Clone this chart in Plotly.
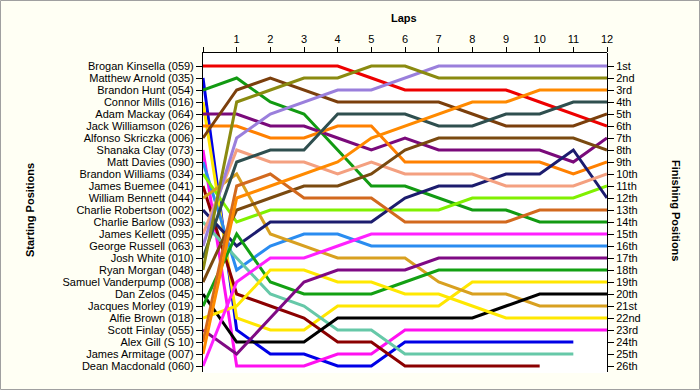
import plotly.graph_objects as go

# ---------------- data ----------------
laps = list(range(0, 13))
lap_tick_text = [""] + [str(i) for i in range(1, 13)]

start_names = [
    "Brogan Kinsella (059)", "Matthew Arnold (035)", "Brandon Hunt (054)", "Connor Mills (016)",
    "Adam Mackay (064)", "Jack Williamson (026)", "Alfonso Skriczka (006)", "Shanaka Clay (073)",
    "Matt Davies (090)", "Brandon Williams (034)", "James Buemee (041)", "William Bennett (044)",
    "Charlie Robertson (002)", "Charlie Barlow (093)", "James Kellett (095)", "George Russell (063)",
    "Josh White (010)", "Ryan Morgan (048)", "Samuel Vanderpump (008)", "Dan Zelos (045)",
    "Jacques Morley (019)", "Alfie Brown (018)", "Scott Finlay (055)", "Alex Gill (S 10)",
    "James Armitage (007)", "Dean Macdonald (060)",
]
finish_labels = [
    "1st", "2nd", "3rd", "4th", "5th", "6th", "7th", "8th", "9th", "10th", "11th", "12th", "13th",
    "14th", "15th", "16th", "17th", "18th", "19th", "20th", "21st", "22nd", "23rd", "24th", "25th", "26th",
]
rows = list(range(1, 27))

# position at lap 0..12 for each driver (in starting order)
brogan_kinsella   = [1, 1, 1, 1, 1, 2, 3, 3, 3, 3, 4, 5, 6]
matthew_arnold    = [2, 23, 25, 25, 26, 26, 24, 24, 24, 24, 24, 24]
brandon_hunt      = [3, 2, 4, 5, 8, 11, 11, 12, 13, 13, 14, 14, 14]
connor_mills      = [4, 22, 23, 23, 21, 21, 21, 21, 19, 19, 19, 19, 19]
adam_mackay       = [5, 5, 6, 6, 7, 8, 7, 8, 8, 8, 8, 9, 7]
jack_williamson   = [6, 6, 7, 7, 6, 6, 9, 9, 9, 9, 9, 10, 9]
alfonso_skriczka  = [7, 3, 2, 3, 4, 4, 4, 4, 5, 6, 6, 6, 5]
shanaka_clay      = [8, 26, 26, 26, 25, 25, 23, 23, 23, 23, 23, 23, 23]
matt_davies       = [9, 18, 16, 15, 15, 16, 16, 16, 16, 16, 16, 16, 16]
brandon_williams  = [10, 14, 13, 13, 13, 13, 13, 13, 12, 12, 12, 12, 11]
james_buemee      = [11, 20, 21, 22, 24, 24, 26, 26, 26, 26, 26]
william_bennett   = [12, 10, 15, 16, 17, 17, 17, 19, 20, 20, 21, 21, 21]
charlie_robertson = [13, 16, 14, 14, 14, 14, 12, 11, 11, 10, 10, 8, 12]
charlie_barlow    = [14, 17, 20, 21, 23, 23, 25, 25, 25, 25, 25, 25]
james_kellett     = [15, 8, 9, 9, 10, 9, 10, 10, 10, 11, 11, 11, 10]
george_russell    = [16, 7, 5, 4, 3, 3, 2, 1, 1, 1, 1, 1, 1]
josh_white        = [17, 9, 8, 8, 5, 5, 5, 6, 6, 5, 5, 4, 4]
ryan_morgan       = [18, 4, 3, 2, 2, 1, 1, 2, 2, 2, 2, 2, 2]
samuel_vanderpump = [19, 13, 12, 11, 11, 10, 8, 7, 7, 7, 7, 7, 8]
dan_zelos         = [20, 24, 24, 24, 22, 22, 22, 22, 22, 21, 20, 20, 20]
jacques_morley    = [21, 15, 19, 20, 20, 20, 19, 18, 18, 18, 18, 18, 18]
alfie_brown       = [22, 21, 18, 18, 19, 19, 20, 20, 21, 22, 22, 22, 22]
scott_finlay      = [23, 25, 22, 19, 18, 18, 18, 17, 17, 17, 17, 17, 17]
alex_gill         = [24, 11, 10, 12, 12, 12, 14, 14, 14, 14, 13, 13, 13]
james_armitage    = [25, 12, 11, 10, 9, 7, 6, 5, 4, 4, 3, 3, 3]
dean_macdonald    = [26, 19, 17, 17, 16, 15, 15, 15, 15, 15, 15, 15, 15]

driver_positions = [
    brogan_kinsella, matthew_arnold, brandon_hunt, connor_mills, adam_mackay, jack_williamson,
    alfonso_skriczka, shanaka_clay, matt_davies, brandon_williams, james_buemee, william_bennett,
    charlie_robertson, charlie_barlow, james_kellett, george_russell, josh_white, ryan_morgan,
    samuel_vanderpump, dan_zelos, jacques_morley, alfie_brown, scott_finlay, alex_gill,
    james_armitage, dean_macdonald,
]
driver_colors = [
    "#EE0000", "#0000E6", "#129A12", "#FFE600", "#7A0A7A", "#FF8000",
    "#7B3F0C", "#FF10F0", "#2A8CF0", "#80F000", "#8B0000", "#D8A020",
    "#1C1C6E", "#66C8A8", "#F4A080", "#9A7FDC", "#2F4F4F", "#8A8A10",
    "#7A4A10", "#000000", "#13A013", "#FFE800", "#7F0A84", "#D2691E",
    "#FF8A00", "#FF20FF",
]

# ---------------- layout geometry ----------------
W, H = 700, 390
L, R, T, B = 203, 92, 53, 17
pw = W - L - R
ph = H - T - B
sx = 1.0 / pw
sy = 1.0 / ph
xr = [0, 12]
yr = [26.5, -0.083]
FONT = "Liberation Sans, Arial, sans-serif"

fig = go.Figure()

# invisible trace for the main (left/top) axes
fig.add_trace(go.Scatter(x=[0, 12], y=[1, 26], mode="markers", marker=dict(opacity=0),
                         xaxis="x", yaxis="y", hoverinfo="skip", showlegend=False))

# shadows
for pos in driver_positions:
    fig.add_trace(go.Scatter(x=laps[:len(pos)], y=pos, mode="lines",
                             line=dict(color="rgba(60,60,60,0.45)", width=3),
                             xaxis="x2", yaxis="y2", hoverinfo="skip", showlegend=False))
# lines
for name, pos, col in zip(start_names, driver_positions, driver_colors):
    fig.add_trace(go.Scatter(x=laps[:len(pos)], y=pos, mode="lines", name=name,
                             line=dict(color=col, width=3),
                             xaxis="x3", yaxis="y3", showlegend=False))

grid = "#E6E6E6"
fig.update_layout(
    width=W, height=H,
    margin=dict(l=L, r=R, t=T, b=B, autoexpand=False),
    paper_bgcolor="#FFFFF4",
    plot_bgcolor="#FFFFFF",
    font=dict(family=FONT, size=11, color="#000000"),
    showlegend=False,
    xaxis=dict(domain=[0, 1 - sx], range=xr, side="top", anchor="y", automargin=False,
               tickmode="array", tickvals=laps, ticktext=lap_tick_text,
               ticks="outside", ticklen=5, tickcolor="#000", showline=True, linecolor="#000",
               showgrid=True, gridcolor=grid, zeroline=False, fixedrange=True),
    yaxis=dict(domain=[sy, 1], range=yr, anchor="x", automargin=False,
               tickmode="array", tickvals=rows, ticktext=start_names,
               ticks="outside", ticklen=6, tickcolor="#000", showline=True, linecolor="#000",
               showgrid=True, gridcolor=grid, zeroline=False, fixedrange=True),
    xaxis2=dict(domain=[sx, 1], range=xr, anchor="y2", visible=False, fixedrange=True,
                automargin=False),
    yaxis2=dict(domain=[0, 1 - sy], range=yr, anchor="x2", visible=False, fixedrange=True,
                automargin=False),
    xaxis3=dict(domain=[0, 1 - sx], range=xr, anchor="y3", visible=False, fixedrange=True,
                automargin=False),
    yaxis3=dict(domain=[sy, 1], range=yr, anchor="x3", side="right", automargin=False,
                tickmode="array", tickvals=rows, ticktext=finish_labels,
                ticks="outside", ticklen=6, tickcolor="#000", showline=True, linecolor="#000",
                showgrid=False, zeroline=False, fixedrange=True),
    annotations=[
        dict(text="<b>Laps</b>", xref="paper", yref="paper",
             x=(404 - L) / pw, y=(H - B - 18) / ph, xanchor="center", yanchor="middle",
             showarrow=False, font=dict(size=11)),
        dict(text="<b>Starting Positions</b>", xref="paper", yref="paper",
             x=(30 - L) / pw, y=(H - B - 210) / ph, xanchor="center", yanchor="middle",
             textangle=-90, showarrow=False, font=dict(size=11)),
        dict(text="<b>Finishing Positions</b>", xref="paper", yref="paper",
             x=(676 - L) / pw, y=(H - B - 210) / ph, xanchor="center", yanchor="middle",
             textangle=90, showarrow=False, font=dict(size=11)),
    ],
    shapes=[
        dict(type="rect", xref="paper", yref="paper", layer="above",
             x0=(0.5 - L) / pw, x1=(W - 0.5 - L) / pw,
             y0=(H - B - (H - 0.5)) / ph, y1=(H - B - 0.5) / ph,
             line=dict(color="#A0A0A0", width=1)),
    ],
)

fig.write_html("out.html", config={"displayModeBar": False},
               post_script="document.body.style.margin='0px';document.body.style.padding='0px';")
